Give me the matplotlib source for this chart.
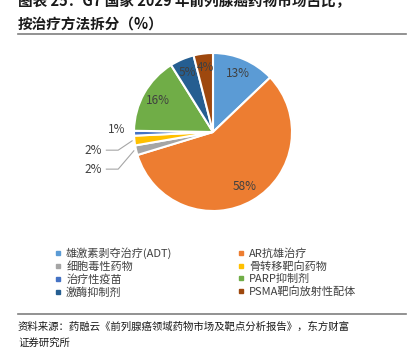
import matplotlib.pyplot as plt
from matplotlib.lines import Line2D
import numpy as np

plt.rcParams['font.family'] = ['Noto Sans CJK SC', 'DejaVu Sans']

categories = ['雄激素剥夺治疗(ADT)', 'AR抗雄治疗', '细胞毒性药物', '骨转移靶向药物',
              '治疗性疫苗', 'PARP抑制剂', '激酶抑制剂', 'PSMA靶向放射性配体']
shares = [13, 58, 2, 2, 1, 16, 5, 4]
colors = ['#5B9BD5', '#ED7D31', '#A5A5A5', '#FFC000',
          '#4472C4', '#70AD47', '#255E91', '#9E480E']

W, H = 412, 356
fig = plt.figure(figsize=(W / 100, H / 100), dpi=100)

# pie axes: centre (213, 132) px, radius 79 px
cx, cy, r = 213, 132, 79
ax = fig.add_axes([(cx - r) / W, (H - cy - r) / H, 2 * r / W, 2 * r / H])
wedges, _ = ax.pie(shares, colors=colors, startangle=90, counterclock=False,
                   wedgeprops=dict(edgecolor='white', linewidth=1.5))
ax.set_xlim(-1, 1)
ax.set_ylim(-1, 1)

outside = {2: (-1.4, -0.47), 3: (-1.4, -0.23), 4: (-1.22, -0.05)}
for i, w in enumerate(wedges):
    mid = np.deg2rad((w.theta1 + w.theta2) / 2)
    x, y = np.cos(mid), np.sin(mid)
    lab = '%d%%' % shares[i]
    if i in outside:
        tx, ty = outside[i]
        if i == 4:
            ax.text(tx, ty, lab, ha='center', va='bottom', fontsize=8.5,
                    color='#404040', clip_on=False)
        else:
            ax.text(tx, ty, lab, ha='right', va='center', fontsize=8.5,
                    color='#404040', clip_on=False)
            ax.plot([tx + 0.05, tx + 0.2, x * 1.03], [ty, ty, y * 1.03],
                    color='#A6A6A6', lw=0.8, clip_on=False)
    else:
        d = 0.8 if shares[i] > 6 else 0.82
        ax.text(x * d, y * d, lab, ha='center', va='center', fontsize=8.5,
                color='#404040')

# legend, column-wise fill
handles = [Line2D([], [], marker='s', ls='', color=c, markersize=3.5) for c in colors]
order = [0, 2, 4, 6, 1, 3, 5, 7]
fig.legend([handles[k] for k in order], [categories[k] for k in order],
           loc='upper left', bbox_to_anchor=(45 / W, 1 - 237 / H), ncol=2,
           frameon=False, fontsize=8, handlelength=0.6, handletextpad=0.4,
           labelspacing=0.2, columnspacing=5.9, labelcolor='#404040')

# title and source
fig.text(18 / W, 1 - 1 / H, '图表 25：G7 国家 2029 年前列腺癌药物市场占比，',
         fontsize=10.5, fontweight='bold', va='center', color='#1a1a1a')
fig.text(18 / W, 1 - 24 / H, '按治疗方法拆分（%）', fontsize=10.5,
         fontweight='bold', va='center', color='#1a1a1a')
fig.add_artist(Line2D([18 / W, 406 / W], [1 - 34 / H] * 2, color='#7f7f7f', lw=1.2))
fig.add_artist(Line2D([18 / W, 406 / W], [1 - 314 / H] * 2, color='#7f7f7f', lw=1.2))
fig.text(18 / W, 1 - 327 / H,
         '资料来源：药融云《前列腺癌领域药物市场及靶点分析报告》，东方财富',
         fontsize=7.5, va='center', color='#1a1a1a')
fig.text(18 / W, 1 - 344 / H, '证券研究所', fontsize=7.5, va='center', color='#1a1a1a')

fig.savefig('out.png', dpi=100)
